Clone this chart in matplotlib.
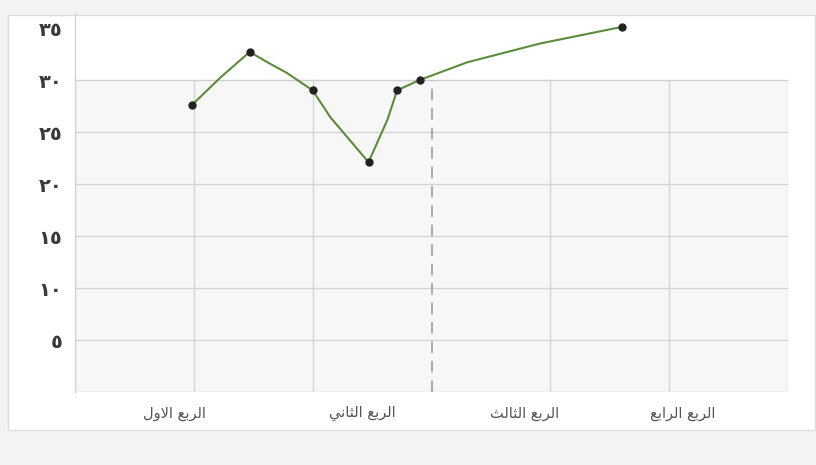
import matplotlib
matplotlib.use("Agg")
import matplotlib.pyplot as plt
from matplotlib.patches import Rectangle

# quarter labels (logical arabic text) and where they sit on the x axis
quarters = ["الربع الاول", "الربع الثاني", "الربع الثالث", "الربع الرابع"]
quarter_pos = [0.84, 2.42, 3.78, 5.11]

# y ticks with arabic-indic digits
y_ticks = [5, 10, 15, 20, 25, 30, 35]
y_labels = ["٥", "١٠", "١٥", "٢٠", "٢٥", "٣٠", "٣٥"]

# marked points
pts_x = [0.985, 1.47, 2.00, 2.47, 2.71, 2.90, 4.60]
pts_y = [27.6, 32.7, 29.0, 22.1, 29.0, 30.0, 35.1]

# hand drawn trace of the green line
trace_x = [0.985, 1.22, 1.47, 1.62, 1.78, 2.00, 2.15, 2.47, 2.63, 2.71, 2.90, 3.30, 3.91, 4.60]
trace_y = [27.6, 30.2, 32.7, 31.7, 30.7, 29.0, 26.4, 22.1, 26.2, 29.0, 30.0, 31.7, 33.5, 35.1]

# simple arabic shaping (matplotlib has no shaping / bidi)
FORMS = {
    "ا": ("\ufe8d", "\ufe8e", None, None),
    "ر": ("\ufead", "\ufeae", None, None),
    "و": ("\ufeed", "\ufeee", None, None),
    "ل": ("\ufedd", "\ufede", "\ufedf", "\ufee0"),
    "ب": ("\ufe8f", "\ufe90", "\ufe91", "\ufe92"),
    "ع": ("\ufec9", "\ufeca", "\ufecb", "\ufecc"),
    "ث": ("\ufe99", "\ufe9a", "\ufe9b", "\ufe9c"),
    "ن": ("\ufee5", "\ufee6", "\ufee7", "\ufee8"),
    "ي": ("\ufef1", "\ufef2", "\ufef3", "\ufef4"),
}


def shape_word(word):
    out = []
    prev_joins = False
    i = 0
    while i < len(word):
        ch = word[i]
        if ch == "ل" and i + 1 < len(word) and word[i + 1] == "ا":
            out.append("\ufefc" if prev_joins else "\ufefb")
            prev_joins = False
            i += 2
            continue
        iso, fin, ini, med = FORMS[ch]
        next_joins = ini is not None and i + 1 < len(word)
        if prev_joins and next_joins:
            out.append(med)
        elif prev_joins:
            out.append(fin)
        elif next_joins:
            out.append(ini)
        else:
            out.append(iso)
        prev_joins = ini is not None
        i += 1
    return "".join(out)


def shape(text):
    shaped = " ".join(shape_word(w) for w in text.split(" "))
    return shaped[::-1]


fig = plt.figure(figsize=(8.16, 4.65), dpi=100)
fig.patch.set_facecolor("#f3f3f3")

# outer white card behind everything
bg = fig.add_axes([0, 0, 1, 1], zorder=-1)
bg.set_xlim(0, 816)
bg.set_ylim(465, 0)
bg.axis("off")
bg.add_patch(Rectangle((8, 15), 807, 415, facecolor="white",
                       edgecolor="#dddddd", lw=1.0))

ax = fig.add_axes([75 / 816, 73 / 465, 713 / 816, 379.6 / 465])
ax.set_xlim(0, 6)
ax.set_ylim(0, 36.5)
ax.patch.set_alpha(0)

# plot box only up to 30
ax.add_patch(Rectangle((0, 0), 6, 30, facecolor="#f7f7f7", edgecolor="#cfcfcf",
                       lw=1.0, zorder=0))
for y in [5, 10, 15, 20, 25]:
    ax.plot([0, 6], [y, y], color="#d4d4d4", lw=1.0, zorder=1)
for x in [1, 2, 4, 5]:
    ax.plot([x, x], [0, 30], color="#d4d4d4", lw=1.0, zorder=1)
ax.plot([3, 3], [0, 30], color="#aaaaaa", lw=1.4, ls=(0, (6, 4)), zorder=1)

ax.plot(trace_x, trace_y, color="#5b8c3a", lw=1.5, zorder=3)
ax.plot(pts_x, pts_y, "o", color="#222222", ms=5, zorder=4)

for s in ["top", "right", "bottom"]:
    ax.spines[s].set_visible(False)
ax.spines["left"].set_color("#cfcfcf")

ax.set_yticks(y_ticks)
ax.set_yticklabels(y_labels, fontsize=14, color="#3a3a3a", fontweight="bold",
                   family="DejaVu Sans")
ax.set_xticks(quarter_pos)
ax.set_xticklabels([shape(q) for q in quarters], fontsize=10.5, color="#555555",
                   family="DejaVu Sans")
ax.tick_params(axis="both", length=0)
ax.tick_params(axis="y", pad=9)
ax.tick_params(axis="x", pad=10)

fig.savefig("out.png", dpi=100)
